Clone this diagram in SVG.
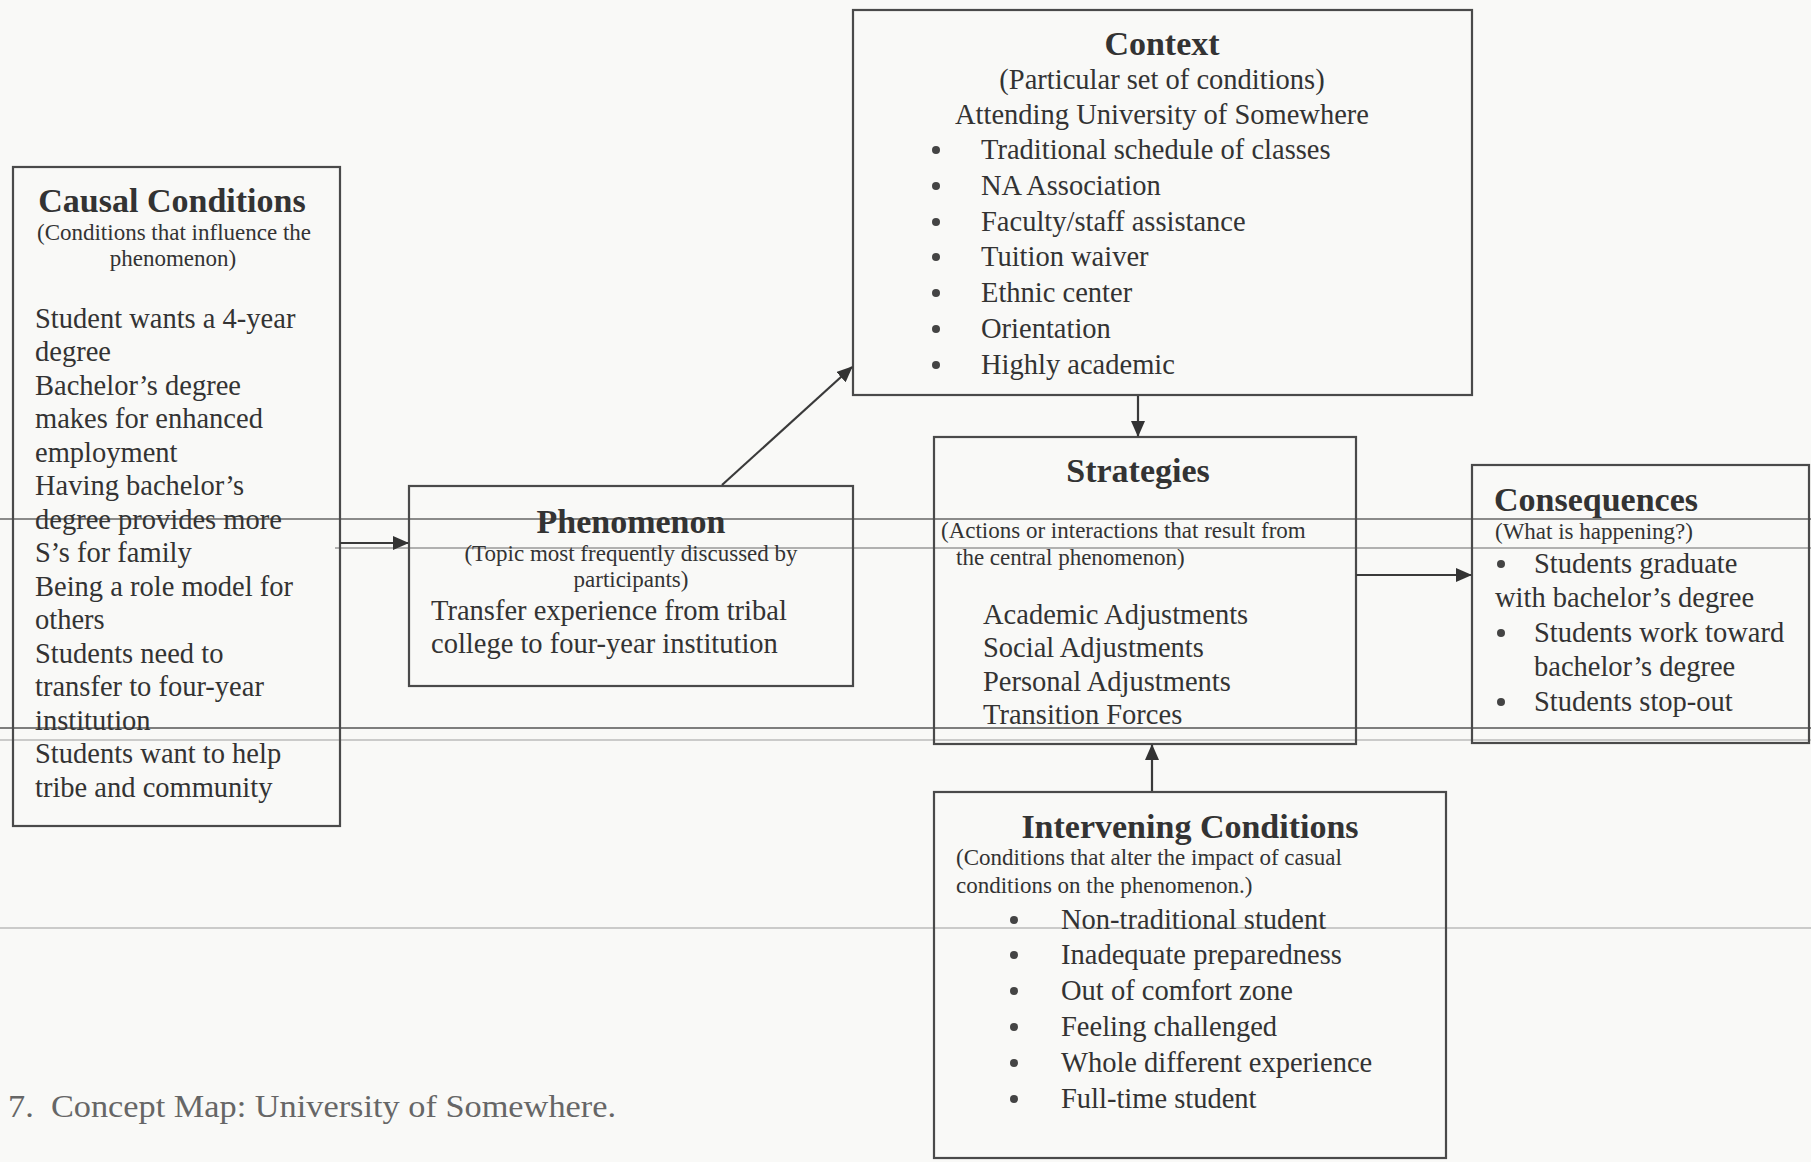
<svg xmlns="http://www.w3.org/2000/svg" width="1811" height="1162" viewBox="0 0 1811 1162">
<defs>
<style>
.box{fill:none;stroke:#4a4a4a;stroke-width:2.2}
.t{font-family:"Liberation Serif","Times New Roman",serif;fill:#333}
.title{font-size:34px;font-weight:bold}
.body{font-size:28.5px}
.sub{font-size:23px}
.mid{text-anchor:middle}
.bul{fill:#444}
.conn{stroke:#3a3a3a;stroke-width:2.2;fill:none;marker-end:url(#ah)}
.scan{stroke-width:1.4;fill:none}
</style>
<marker id="ah" markerUnits="userSpaceOnUse" markerWidth="16" markerHeight="14" refX="15" refY="7" orient="auto">
<path d="M0,0 L16,7 L0,14 Z" fill="#333"/>
</marker>
</defs>
<rect width="1811" height="1162" fill="#f9f9f7"/>

<g id="scan-lines">
<line class="scan" x1="0" y1="519" x2="1811" y2="519" stroke="#666"/>
<line class="scan" x1="335" y1="548" x2="1811" y2="548" stroke="#999"/>
<line class="scan" x1="0" y1="728" x2="1811" y2="728" stroke="#555"/>
<line class="scan" x1="0" y1="740" x2="1811" y2="740" stroke="#bbb"/>
<line class="scan" x1="0" y1="928" x2="1811" y2="928" stroke="#bbb"/>
</g>

<g id="causal-conditions">
<rect class="box" x="13" y="167" width="327" height="659"/>
<text class="t title mid" x="172" y="212">Causal Conditions</text>
<text class="t sub mid" x="174" y="240">(Conditions that influence the</text>
<text class="t sub mid" x="173" y="266">phenomenon)</text>
<text class="t body" x="35" y="328">Student wants a 4-year</text>
<text class="t body" x="35" y="361">degree</text>
<text class="t body" x="35" y="395">Bachelor’s degree</text>
<text class="t body" x="35" y="428">makes for enhanced</text>
<text class="t body" x="35" y="462">employment</text>
<text class="t body" x="35" y="495">Having bachelor’s</text>
<text class="t body" x="35" y="529">degree provides more</text>
<text class="t body" x="35" y="562">S’s for family</text>
<text class="t body" x="35" y="596">Being a role model for</text>
<text class="t body" x="35" y="629">others</text>
<text class="t body" x="35" y="663">Students need to</text>
<text class="t body" x="35" y="696">transfer to four-year</text>
<text class="t body" x="35" y="730">institution</text>
<text class="t body" x="35" y="763">Students want to help</text>
<text class="t body" x="35" y="797">tribe and community</text>
</g>

<g id="context">
<rect class="box" x="853" y="10" width="619" height="385"/>
<text class="t title mid" x="1162" y="55">Context</text>
<text class="t body mid" x="1162" y="89">(Particular set of conditions)</text>
<text class="t body mid" x="1162" y="124">Attending University of Somewhere</text>
<circle class="bul" cx="936" cy="150" r="4"/>
<text class="t body" x="981" y="159">Traditional schedule of classes</text>
<circle class="bul" cx="936" cy="186" r="4"/>
<text class="t body" x="981" y="195">NA Association</text>
<circle class="bul" cx="936" cy="222" r="4"/>
<text class="t body" x="981" y="231">Faculty/staff assistance</text>
<circle class="bul" cx="936" cy="257" r="4"/>
<text class="t body" x="981" y="266">Tuition waiver</text>
<circle class="bul" cx="936" cy="293" r="4"/>
<text class="t body" x="981" y="302">Ethnic center</text>
<circle class="bul" cx="936" cy="329" r="4"/>
<text class="t body" x="981" y="338">Orientation</text>
<circle class="bul" cx="936" cy="365" r="4"/>
<text class="t body" x="981" y="374">Highly academic</text>
</g>

<g id="phenomenon">
<rect class="box" x="409" y="486" width="444" height="200"/>
<text class="t title mid" x="631" y="533">Phenomenon</text>
<text class="t sub mid" x="631" y="561">(Topic most frequently discussed by</text>
<text class="t sub mid" x="631" y="587">participants)</text>
<text class="t body" x="431" y="620">Transfer experience from tribal</text>
<text class="t body" x="431" y="653">college to four-year institution</text>
</g>

<g id="strategies">
<rect class="box" x="934" y="437" width="422" height="307"/>
<text class="t title mid" x="1138" y="482">Strategies</text>
<text class="t sub" x="941" y="538">(Actions or interactions that result from</text>
<text class="t sub" x="956" y="565">the central phenomenon)</text>
<text class="t body" x="983" y="624">Academic Adjustments</text>
<text class="t body" x="983" y="657">Social Adjustments</text>
<text class="t body" x="983" y="691">Personal Adjustments</text>
<text class="t body" x="983" y="724">Transition Forces</text>
</g>

<g id="consequences">
<rect class="box" x="1472" y="465" width="337" height="278"/>
<text class="t title" x="1494" y="511">Consequences</text>
<text class="t sub" x="1495" y="539">(What is happening?)</text>
<circle class="bul" cx="1501" cy="564" r="4"/>
<text class="t body" x="1534" y="573">Students graduate</text>
<text class="t body" x="1495" y="607">with bachelor’s degree</text>
<circle class="bul" cx="1501" cy="633" r="4"/>
<text class="t body" x="1534" y="642">Students work toward</text>
<text class="t body" x="1534" y="676">bachelor’s degree</text>
<circle class="bul" cx="1501" cy="702" r="4"/>
<text class="t body" x="1534" y="711">Students stop-out</text>
</g>

<g id="intervening-conditions">
<rect class="box" x="934" y="792" width="512" height="366"/>
<text class="t title mid" x="1190" y="838">Intervening Conditions</text>
<text class="t sub" x="956" y="865">(Conditions that alter the impact of casual</text>
<text class="t sub" x="956" y="893">conditions on the phenomenon.)</text>
<circle class="bul" cx="1014" cy="920" r="4"/>
<text class="t body" x="1061" y="929">Non-traditional student</text>
<circle class="bul" cx="1014" cy="955" r="4"/>
<text class="t body" x="1061" y="964">Inadequate preparedness</text>
<circle class="bul" cx="1014" cy="991" r="4"/>
<text class="t body" x="1061" y="1000">Out of comfort zone</text>
<circle class="bul" cx="1014" cy="1027" r="4"/>
<text class="t body" x="1061" y="1036">Feeling challenged</text>
<circle class="bul" cx="1014" cy="1063" r="4"/>
<text class="t body" x="1061" y="1072">Whole different experience</text>
<circle class="bul" cx="1014" cy="1099" r="4"/>
<text class="t body" x="1061" y="1108">Full-time student</text>
</g>

<g id="connectors">
<path class="conn" d="M340,543 L408,543"/>
<path class="conn" d="M722,485 L852,367"/>
<path class="conn" d="M1138,396 L1138,436"/>
<path class="conn" d="M1356,575 L1471,575"/>
<path class="conn" d="M1152,791 L1152,745"/>
</g>

<text class="t" x="8" y="1117" font-size="32" style="fill:#666" textLength="608" lengthAdjust="spacingAndGlyphs">7.&#160; Concept Map: University of Somewhere.</text>
</svg>
